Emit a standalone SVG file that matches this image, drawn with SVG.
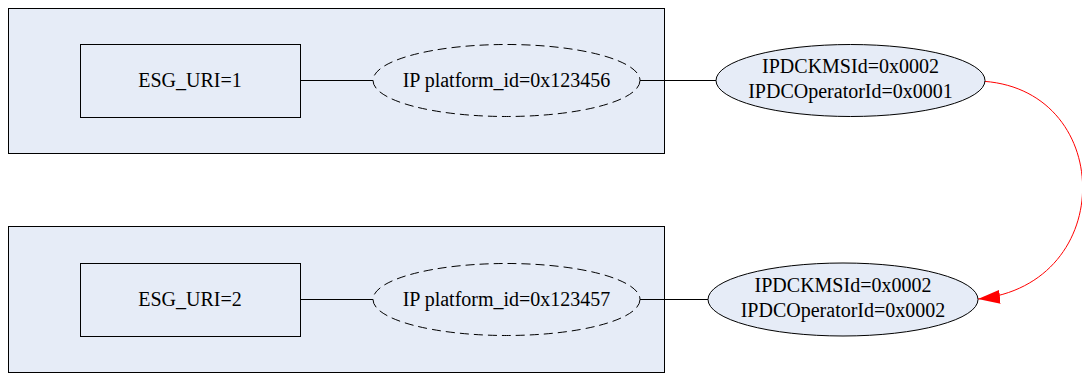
<svg xmlns="http://www.w3.org/2000/svg" width="1082" height="374" viewBox="0 0 1082 374">
<style>
.grp{fill:#e6ecf7;stroke:#000;stroke-width:1}
.box{fill:#e6ecf7;stroke:#000;stroke-width:1}
.dash{fill:#e6ecf7;stroke:#000;stroke-width:1;stroke-dasharray:9,5}
.ell{fill:#e6ecf7;stroke:#000;stroke-width:1}
.t{font-family:"Liberation Serif","Times New Roman",serif;font-size:20px;fill:#000;text-anchor:middle}
.ln{stroke:#000;stroke-width:1;fill:none}
</style>
<defs>
<marker id="ah" viewBox="0 0 22 14" refX="22" refY="7" markerWidth="22" markerHeight="14" markerUnits="userSpaceOnUse" orient="auto">
<path d="M0,0 L22,7 L0,14 Z" fill="#ff0000"/>
</marker>
</defs>
<rect id="group1" class="grp" x="8.5" y="8.5" width="656" height="145"/>
<rect id="group2" class="grp" x="8.5" y="226.5" width="656" height="146"/>
<g id="connectors">
<line class="ln" x1="300" y1="80.5" x2="373" y2="80.5"/>
<line class="ln" x1="640" y1="80.5" x2="716" y2="80.5"/>
<line class="ln" x1="300" y1="299.5" x2="373" y2="299.5"/>
<line class="ln" x1="640" y1="299.5" x2="708" y2="299.5"/>
<path d="M978,81 C1115,85 1120,285 978,299" fill="none" stroke="#ff0000" stroke-width="1" marker-end="url(#ah)"/>
</g>
<g id="esg1"><rect class="box" x="80.5" y="44.5" width="220" height="73"/><text class="t" x="190" y="87">ESG_URI=1</text></g>
<g id="ip1"><ellipse class="dash" cx="506.5" cy="80.5" rx="133.5" ry="36"/><text class="t" x="506.5" y="87">IP platform_id=0x123456</text></g>
<g id="kms1"><ellipse class="ell" cx="850.5" cy="80.5" rx="134.5" ry="36"/><text class="t" x="850.5" y="73">IPDCKMSId=0x0002</text><text class="t" x="850.5" y="98">IPDCOperatorId=0x0001</text></g>
<g id="esg2"><rect class="box" x="80.5" y="263.5" width="220" height="73"/><text class="t" x="190" y="306">ESG_URI=2</text></g>
<g id="ip2"><ellipse class="dash" cx="506.5" cy="299.5" rx="133.5" ry="36"/><text class="t" x="506.5" y="306">IP platform_id=0x123457</text></g>
<g id="kms2"><ellipse class="ell" cx="843" cy="299.5" rx="135" ry="36.5"/><text class="t" x="843" y="292">IPDCKMSId=0x0002</text><text class="t" x="843" y="317">IPDCOperatorId=0x0002</text></g>
</svg>
